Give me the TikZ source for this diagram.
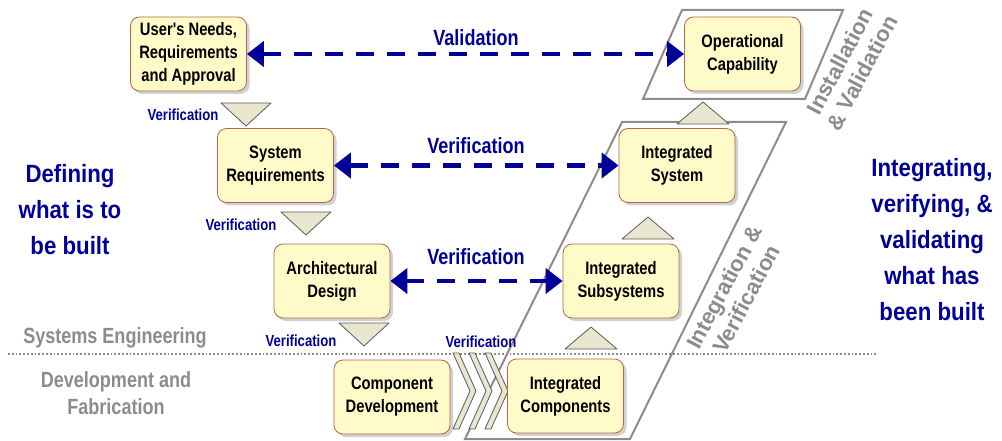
\documentclass[tikz,border=0pt]{standalone}
\usepackage{fontspec}
\setmainfont{Liberation Sans}
\newfontfamily\condfont{Liberation Sans}[FakeStretch=0.82]
\newfontfamily\headfont{Liberation Sans}[FakeStretch=0.89]
\usetikzlibrary{positioning,arrows.meta,shadows}

\definecolor{boxfill}{HTML}{FFFBC8}
\definecolor{boxline}{HTML}{B5664A}
\definecolor{trifill}{HTML}{E9E6CF}
\definecolor{navyarrow}{HTML}{000099}
\definecolor{labelgray}{HTML}{8C8C8C}

\begin{document}
\begin{tikzpicture}[x=1pt, y=-1pt,
        stage/.style={draw=boxline, fill=boxfill, rounded corners=9pt, line width=0.8pt,
            minimum width=116pt, minimum height=74pt, align=center, inner sep=2pt,
            font=\condfont\bfseries\fontsize{18}{23}\selectfont,
            drop shadow={shadow xshift=3pt, shadow yshift=-3pt, fill=black!30, opacity=0.6}},
        wedge/.style={draw=black!65, fill=trifill, line width=0.8pt, line join=round},
        frame/.style={draw=labelgray, line width=2pt},
        varrow/.style={navyarrow, line width=4.5pt, dash pattern=on 18pt off 13pt,
            {Triangle[length=17pt,width=25pt]}-{Triangle[length=17pt,width=25pt]}},
        vlabel/.style={text=navyarrow, font=\condfont\bfseries\fontsize{22}{26}\selectfont},
        smalllabel/.style={text=navyarrow, font=\condfont\bfseries\fontsize{16}{19}\selectfont},
        graylabel/.style={text=labelgray, align=center, font=\condfont\bfseries\fontsize{22}{27}\selectfont},
        phaselabel/.style={text=labelgray, align=center, rotate=62, font=\bfseries\fontsize{22}{25}\selectfont},
        headline/.style={text=navyarrow, align=center, font=\headfont\bfseries\fontsize{25}{36}\selectfont}
    ]
        \useasboundingbox (0,0) rectangle (1002,441);

        % phase frames
        \draw[frame] (682,10) -- (843,10) -- (805,99) -- (643,99) -- cycle;
        \draw[frame] (622,122) -- (786,122) -- (630,439) -- (465,439) -- cycle;
        \draw[labelgray, line width=1.8pt, dotted] (8,354) -- (876,354);

        % verification wedges (down) and integration wedges (up)
        \foreach \tx/\ty in {246/103, 306/212, 364/323}
            \draw[wedge] (\tx-25,\ty) -- (\tx+25,\ty) -- (\tx,\ty+23) -- cycle;
        \foreach \tx/\ty in {703/124, 648/239, 591/349}
            \draw[wedge] (\tx-26,\ty) -- (\tx+26,\ty) -- (\tx,\ty-22) -- cycle;
        \foreach \cx in {453,469,485}
            \draw[wedge] (\cx,353) -- (\cx+6,353) -- (\cx+23,391) -- (\cx+6,429) -- (\cx,429) -- (\cx+17,391) -- cycle;

        % stages
        \node[stage] (needs) at (188.5,54) {User's Needs,\\Requirements\\and Approval};
        \node[stage] (opcap) at (742.5,54) {Operational\\Capability};
        \node[stage] (sysreq) at (275.5,165.5) {System\\Requirements};
        \node[stage] (intsys) at (677,165.5) {Integrated\\System};
        \node[stage] (archdes) at (332,281) {Architectural\\Design};
        \node[stage] (intsub) at (621,281) {Integrated\\Subsystems};
        \node[stage] (compdev) at (392,397) {Component\\Development};
        \node[stage] (intcomp) at (565.5,396) {Integrated\\Components};

        % links
        \draw[varrow] (needs) -- (opcap);
        \draw[varrow] (sysreq) -- (intsys);
        \draw[varrow] (archdes) -- (intsub);

        \node[vlabel] (lblval) at (476,38) {Validation};
        \node[vlabel] (lblsys) at (476,146) {Verification};
        \node[vlabel] (lblarch) at (476,257) {Verification};

        \node[smalllabel] (ver1) at (183,115) {Verification};
        \node[smalllabel] (ver2) at (241,225) {Verification};
        \node[smalllabel] (ver3) at (301,341) {Verification};
        \node[smalllabel] (ver4) at (481,342) {Verification};

        \node[graylabel] (syseng) at (115,338) {Systems Engineering};
        \node[graylabel] (devfab) at (116,393) {Development and\\Fabrication};
        \node[phaselabel] (instval) at (851,67) {Installation\\\& Validation};
        \node[phaselabel] (intver) at (735,293) {Integration \&\\Verification};

        \node[headline] (defining) at (70,210) {Defining\\what is to\\be built};
        \node[headline] (integrating) at (932,240) {Integrating,\\verifying, \&\\validating\\what has\\been built};
    \end{tikzpicture}
\end{document}
